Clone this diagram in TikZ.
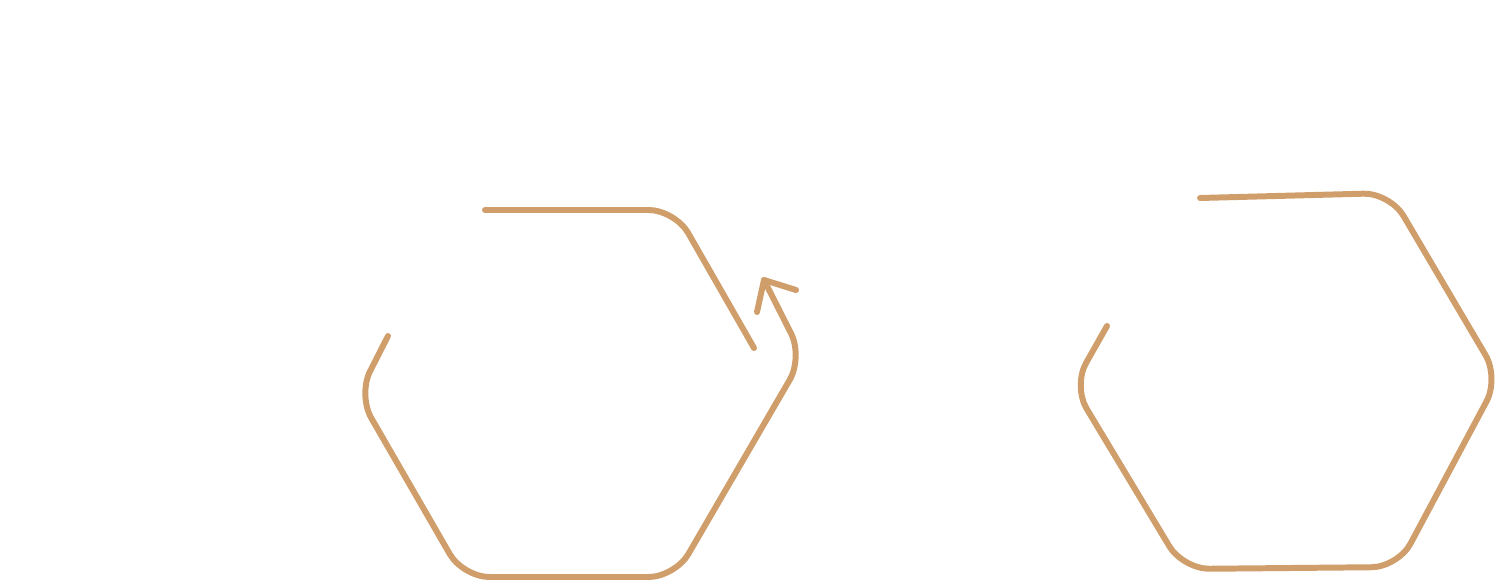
\documentclass[tikz,border=0pt]{standalone}
\usetikzlibrary{positioning}
\definecolor{tan}{HTML}{D09E6A}
\tikzset{hexline/.style={draw=tan,line width=3.4pt,line cap=round,line join=round,rounded corners=15pt}}
\begin{document}
\begin{tikzpicture}[x=0.02cm,y=-0.02cm]
\useasboundingbox (0,0) rectangle (1500,584);
% Левый шестиугольник
\coordinate (a1) at (485,210);
\coordinate (a2) at (754,348);
\draw[hexline] (a1) -- (675,210) -- (a2);
\coordinate (b1) at (388,336);
\coordinate (tip) at (764,280);
\draw[hexline] (b1) -- (358,395) -- (463,577) -- (675,577) -- (803,357) -- (tip);
% Стрелка
\draw[draw=tan,line width=3.4pt,line cap=round,line join=round] (757,312) -- (tip) -- (796,290);

% Правый шестиугольник
\coordinate (c1) at (1200,198);
\coordinate (c2) at (1107,326);
\draw[hexline] (c1) -- (1390,193) -- (1499,378) -- (1398,567) -- (1183,569) -- (1073,386) -- (c2);
\end{tikzpicture}
\end{document}
